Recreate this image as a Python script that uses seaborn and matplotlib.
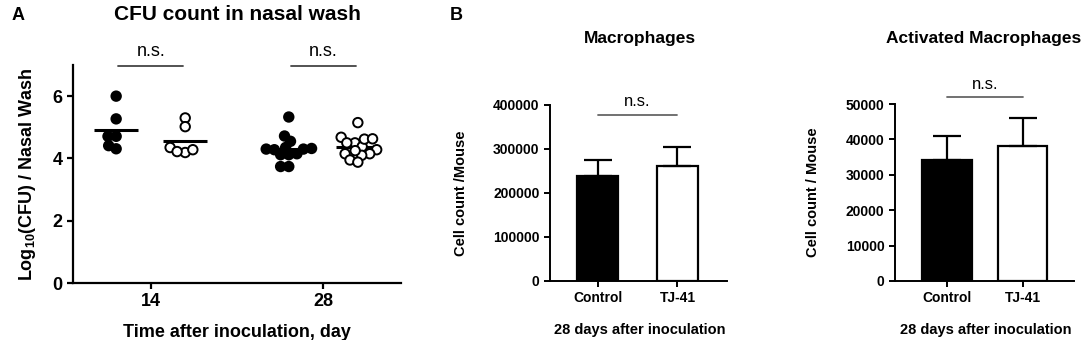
import pandas as pd
import numpy as np
import matplotlib
matplotlib.use('Agg')
import matplotlib.pyplot as plt
import seaborn as sns

# panel A: log10 CFU in nasal wash, one value per mouse
day14_control = [6.0, 5.27, 4.71, 4.71, 4.31, 4.41]
day14_tj41 = [5.3, 5.02, 4.19, 4.35, 4.22, 4.28]
day28_control = [5.33, 4.72, 4.35, 4.55, 4.30, 4.12, 4.32, 4.28, 4.15, 4.12, 3.74, 3.74, 4.30]
day28_tj41 = [5.15, 4.68, 4.5, 4.38, 4.5, 4.62, 4.63, 4.28, 4.15, 4.1, 4.15, 3.95, 4.25, 3.88]
days = ['14', '28']
groups = ['Control', 'TJ-41']

# panel B: mean and SD per group
macro_mean = [238000, 262000]
macro_sd = [38000, 43000]
act_mean = [34100, 38000]
act_sd = [6900, 8100]

sns.set_style('ticks')
plt.rcParams['font.family'] = ['Liberation Sans', 'DejaVu Sans']
plt.rcParams['mathtext.fontset'] = 'custom'
plt.rcParams['mathtext.rm'] = 'Liberation Sans'
plt.rcParams['mathtext.bf'] = 'Liberation Sans:bold'
plt.rcParams['text.color'] = 'black'
plt.rcParams['axes.labelcolor'] = 'black'

rows = []
for d, g, vals in [('14', 'Control', day14_control), ('14', 'TJ-41', day14_tj41),
                   ('28', 'Control', day28_control), ('28', 'TJ-41', day28_tj41)]:
    for v in vals:
        rows.append({'day': d, 'group': g, 'value': v})
df = pd.DataFrame(rows)

W, H = 1084, 340
fig = plt.figure(figsize=(W / 100, H / 100), dpi=100)


def px_axes(left, top, right, bottom):
    return fig.add_axes([left / W, 1 - bottom / H, (right - left) / W, (bottom - top) / H])


def style_axes(ax, lw, size):
    for s in ['top', 'right']:
        ax.spines[s].set_visible(False)
    for s in ['left', 'bottom']:
        ax.spines[s].set_linewidth(lw)
        ax.spines[s].set_color('black')
    ax.tick_params(direction='out', length=4, width=lw, colors='black', labelsize=size)
    for lab in ax.get_xticklabels() + ax.get_yticklabels():
        lab.set_fontweight('bold')


# ---- panel A
axA = px_axes(73, 65, 401, 283)
sns.swarmplot(data=df, x='day', y='value', hue='group', order=days, hue_order=groups,
              dodge=True, palette={'Control': 'black', 'TJ-41': 'white'},
              edgecolor='black', linewidth=1.4, size=4.2, legend=False, ax=axA)
swarms = list(axA.collections)
sns.pointplot(data=df, x='day', y='value', hue='group', order=days, hue_order=groups,
              dodge=0.4, estimator='mean', errorbar=None, markers='_', linestyle='none',
              palette={'Control': 'black', 'TJ-41': 'black'}, markersize=31,
              markeredgewidth=2.2, legend=False, ax=axA)
axA.set_xlim(-0.45, 1.45)
axA.set_ylim(0, 7)
axA.set_yticks([0, 2, 4, 6])
axA.set_xlabel('Time after inoculation, day', fontsize=13, fontweight='bold')
axA.set_ylabel(r'Log$_\mathbf{10}$(CFU) / Nasal Wash', fontsize=13, fontweight='bold')
axA.xaxis.set_label_coords(0.5, -0.19)
axA.yaxis.set_label_coords(-0.107, 0.5)
style_axes(axA, 1.6, 13)
for i in range(len(days)):
    axA.plot([i - 0.19, i + 0.19], [6.97, 6.97], color='#444444', lw=1.3, clip_on=False)
    axA.text(i, 7.15, 'n.s.', ha='center', va='bottom', fontsize=13)
fig.text(237 / W, 1 - 15 / H, 'CFU count in nasal wash', ha='center', va='center',
         fontsize=15, fontweight='bold')
fig.text(12 / W, 1 - 15 / H, 'A', ha='left', va='center', fontsize=13, fontweight='bold')
fig.text(450 / W, 1 - 15 / H, 'B', ha='left', va='center', fontsize=13, fontweight='bold')

# lay out the swarm with small dots, then grow the dots so they overlap a little
fig.canvas.draw()
for coll in swarms:
    if 'draw' in coll.__dict__:
        del coll.draw
    coll.set_sizes([6.8 ** 2] * len(coll.get_offsets()))


# ---- panel B
def bar_panel(ax, means, sds, width, ymax, ystep, ylabel, xlim, ylab_x, ns_y):
    sns.barplot(x=groups, y=means, hue=groups, palette=['black', 'white'], width=width,
                edgecolor='black', linewidth=1.6, errorbar=None, legend=False, ax=ax)
    ax.errorbar(range(len(groups)), means, yerr=[np.zeros(len(sds)), sds], fmt='none',
                ecolor='black', elinewidth=1.6, capsize=10, capthick=1.6)
    ax.set_xlim(*xlim)
    ax.set_ylim(0, ymax)
    ax.set_yticks(np.arange(0, ymax + 1, ystep))
    ax.set_ylabel(ylabel, fontsize=10.5, fontweight='bold')
    ax.set_xlabel('28 days after inoculation', fontsize=10.5, fontweight='bold')
    ax.xaxis.set_label_coords(0.505, -0.238)
    ax.yaxis.set_label_coords(ylab_x, 0.5)
    style_axes(ax, 1.4, 10)
    ax.plot([0, 1], [ns_y, ns_y], color='#666666', lw=1.3, clip_on=False)
    ax.text(0.5, ns_y + ymax * 0.03, 'n.s.', ha='center', va='bottom', fontsize=12)


axB1 = px_axes(550, 105, 727, 281)
bar_panel(axB1, macro_mean, macro_sd, 0.51, 400000, 100000, 'Cell count /Mouse',
          (-0.594, 1.619), -0.463, 378000)
axB2 = px_axes(895, 104, 1074, 281)
bar_panel(axB2, act_mean, act_sd, 0.66, 50000, 10000, 'Cell count / Mouse',
          (-0.689, 1.682), -0.419, 52000)
fig.text(640 / W, 1 - 39 / H, 'Macrophages', ha='center', va='center', fontsize=12.5,
         fontweight='bold')
fig.text(984 / W, 1 - 39 / H, 'Activated Macrophages', ha='center', va='center',
         fontsize=12.5, fontweight='bold')

fig.savefig('out.png', dpi=100)
